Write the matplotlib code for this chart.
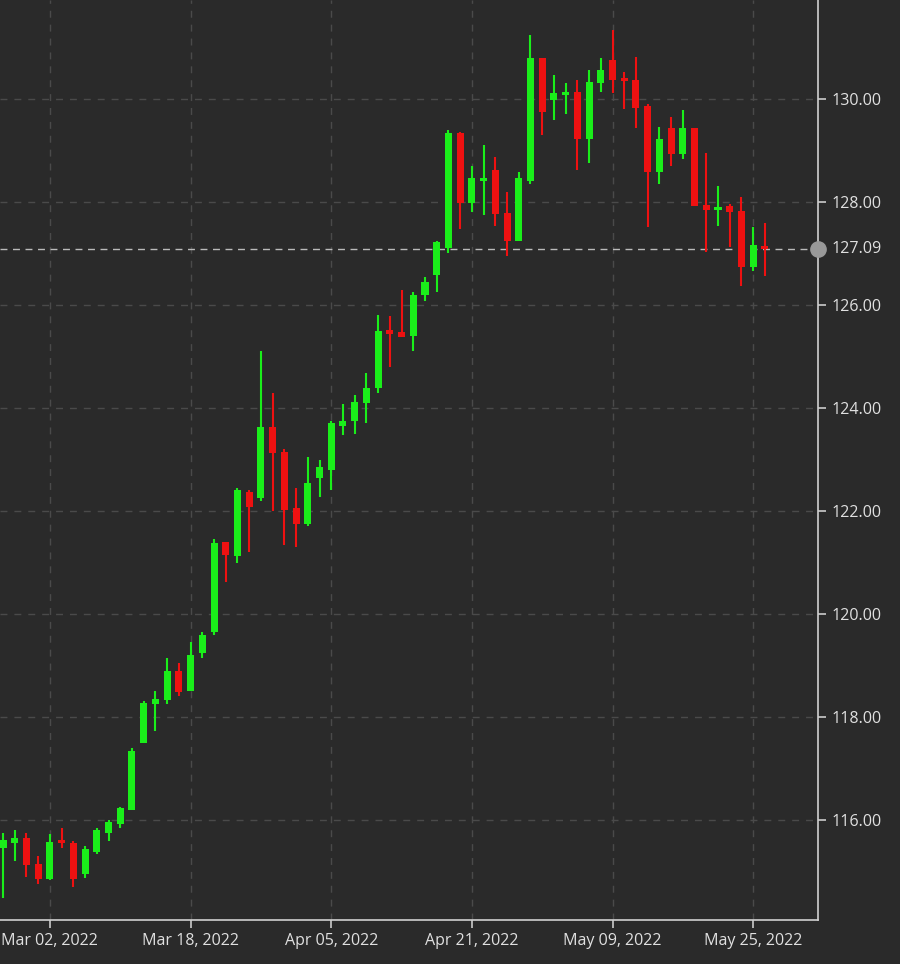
import matplotlib
matplotlib.use("Agg")
import matplotlib.pyplot as plt
from matplotlib.patches import Rectangle

opens  = [115.45,115.55,115.65,115.15,114.85,115.60,115.55,114.95,115.38,115.75,115.92,116.20,117.50,118.25,118.33,118.90,118.50,119.25,119.65,121.40,121.12,122.37,122.25,123.63,123.15,122.05,121.75,122.65,122.80,123.65,123.75,124.10,124.38,125.52,125.47,125.40,126.20,126.58,127.10,129.34,127.98,128.40,128.62,127.78,127.24,128.40,130.80,129.98,130.07,130.13,129.22,130.30,130.76,130.40,130.37,129.86,128.58,129.44,128.93,129.44,127.94,127.85,127.92,127.83,126.74,127.12]
highs  = [115.75,115.80,115.75,115.30,115.73,115.85,115.60,115.50,115.85,116.00,116.25,117.40,118.32,118.50,119.15,119.05,119.45,119.65,121.45,121.40,122.45,122.40,125.10,124.30,123.20,122.45,123.05,123.00,123.75,124.08,124.25,124.68,125.80,125.78,126.30,126.25,126.55,127.25,129.40,129.35,128.70,129.10,128.87,128.20,128.58,131.24,130.80,130.47,130.30,130.37,130.56,130.80,131.34,130.52,130.82,129.90,129.46,129.65,129.79,129.44,128.95,128.31,127.96,128.10,127.51,127.59]
lows   = [114.49,115.20,114.90,114.75,114.83,115.45,114.70,114.88,115.35,115.60,115.85,116.20,117.50,117.73,118.25,118.40,118.50,119.15,119.60,120.62,121.00,121.20,122.20,122.00,121.35,121.30,121.70,122.27,122.40,123.47,123.50,123.70,124.30,124.80,125.38,125.10,126.07,126.25,127.00,127.48,127.80,127.75,127.53,126.95,127.24,128.35,129.30,129.60,129.70,128.62,128.76,130.13,130.12,129.80,129.44,127.51,128.35,128.70,128.83,127.92,127.03,127.53,127.12,126.37,126.66,126.56]
closes = [115.61,115.65,115.12,114.85,115.58,115.55,114.85,115.43,115.80,115.97,116.23,117.35,118.27,118.35,118.90,118.48,119.20,119.60,121.38,121.15,122.40,122.08,123.63,123.13,122.02,121.75,122.55,122.85,123.70,123.75,124.12,124.38,125.50,125.44,125.38,126.20,126.45,127.22,129.34,127.98,128.47,128.45,127.77,127.24,128.47,130.80,129.75,130.12,130.10,129.22,130.33,130.56,130.37,130.35,129.82,128.58,129.22,128.93,129.44,127.92,127.84,127.90,127.80,126.74,127.17,127.09]
tick_idx = [4, 16, 28, 40, 52, 64]
tick_labels = ["Mar 02, 2022", "Mar 18, 2022", "Apr 05, 2022", "Apr 21, 2022", "May 09, 2022", "May 25, 2022"]
y_ticks = [116, 118, 120, 122, 124, 126, 128, 130]
last_price = 127.09

BG = "#2a2a2a"
UP = "#1aee1a"
DN = "#ee1111"
FONT = "Open Sans"

fig = plt.figure(figsize=(9, 9.64), dpi=100, facecolor=BG)
ax = fig.add_axes([0, 0.0456, 0.909, 0.9544], facecolor=BG)

for i, (o, h, l, c) in enumerate(zip(opens, highs, lows, closes)):
    col = UP if c >= o else DN
    ax.vlines(i, l, h, color=col, linewidth=1.5, zorder=3)
    bh = max(abs(c - o), 0.06)
    ax.add_patch(Rectangle((i - 0.3, min(o, c)), 0.6, bh, facecolor=col, edgecolor="none", zorder=4))

ax.set_xlim(-0.26, 69.54)
ax.set_ylim(114.06, 131.92)

ax.set_yticks(y_ticks)
ax.set_yticklabels([f"{v:.2f}" for v in y_ticks])
ax.set_xticks(tick_idx)
ax.set_xticklabels(tick_labels)
ax.yaxis.tick_right()
ax.grid(True, color="#4a4a4a", linestyle=(0, (5, 5)), linewidth=1)
ax.tick_params(axis="both", colors="#cccccc", labelcolor="#e0e0e0", labelsize=11.5, length=6, width=1.2)
ax.tick_params(axis="y", pad=4)
for lab in ax.get_xticklabels() + ax.get_yticklabels():
    lab.set_fontfamily(FONT)
for s in ["left", "top"]:
    ax.spines[s].set_visible(False)
for s in ["right", "bottom"]:
    ax.spines[s].set_color("#d0d0d0")
    ax.spines[s].set_linewidth(1.2)

ax.axhline(last_price, color="#bbbbbb", linestyle=(0, (5, 4)), linewidth=1, zorder=2)
ax.plot([1.0], [last_price], transform=ax.get_yaxis_transform(), marker="o", markersize=11,
        color="#999999", clip_on=False, zorder=6)
ax.annotate(f"{last_price:.2f}", xy=(1.0, last_price), xycoords=ax.get_yaxis_transform(),
            xytext=(10, 0), textcoords="offset points",
            va="center", ha="left", color="#e0e0e0", fontsize=11.5, fontfamily=FONT)

fig.savefig("out.png", dpi=100, facecolor=BG)
